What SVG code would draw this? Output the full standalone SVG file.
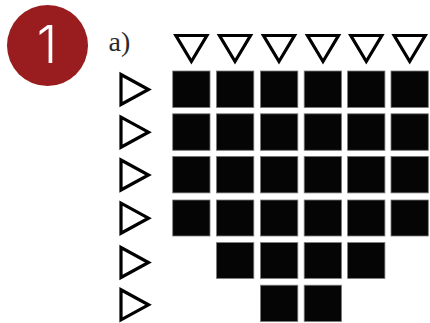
<svg xmlns="http://www.w3.org/2000/svg" width="430" height="323" viewBox="0 0 430 323">
<style>
.sq{fill:#050505;stroke:#7a7a7a;stroke-width:0.8}
.tri{fill:#fff;stroke:#000;stroke-width:3.2;stroke-linejoin:miter}
.lbl{font-family:"Liberation Serif",serif;font-size:28px;fill:#2a2a2a}
.num{font-family:Inter,"Open Sans","Liberation Sans",sans-serif;font-weight:300;font-size:52px;fill:#fff}
</style>
<defs>
<path id="down" class="tri" d="M-15.5,0 L15.5,0 L0,26 Z"/>
<path id="right" class="tri" d="M0,-15 L0,15 L27.5,0 Z"/>
</defs>
<rect width="430" height="323" fill="#fff"/>
<g id="badge">
<circle cx="47.5" cy="45.5" r="40.5" fill="#991c1f"/>
<text class="num" x="47" y="63" text-anchor="middle">1</text>
</g>
<g id="label"><text class="lbl" x="108.5" y="50.7">a)</text></g>
<g id="column-markers">
<use href="#down" x="191.4" y="35.5"/>
<use href="#down" x="235" y="35.5"/>
<use href="#down" x="279" y="35.5"/>
<use href="#down" x="323" y="35.5"/>
<use href="#down" x="366.3" y="35.5"/>
<use href="#down" x="409.7" y="35.5"/>
</g>
<g id="row-markers">
<use href="#right" x="121" y="89.5"/>
<use href="#right" x="121" y="132.2"/>
<use href="#right" x="121" y="175"/>
<use href="#right" x="121" y="218.2"/>
<use href="#right" x="121" y="262.5"/>
<use href="#right" x="121" y="304.8"/>
</g>
<g id="grid">
<rect class="sq" x="172.7" y="71" width="37.3" height="36.5"/>
<rect class="sq" x="216.5" y="71" width="37.3" height="36.5"/>
<rect class="sq" x="260.5" y="71" width="37.3" height="36.5"/>
<rect class="sq" x="304.2" y="71" width="37.3" height="36.5"/>
<rect class="sq" x="347.6" y="71" width="37.3" height="36.5"/>
<rect class="sq" x="391" y="71" width="37.3" height="36.5"/>
<rect class="sq" x="172.7" y="113.8" width="37.3" height="36.5"/>
<rect class="sq" x="216.5" y="113.8" width="37.3" height="36.5"/>
<rect class="sq" x="260.5" y="113.8" width="37.3" height="36.5"/>
<rect class="sq" x="304.2" y="113.8" width="37.3" height="36.5"/>
<rect class="sq" x="347.6" y="113.8" width="37.3" height="36.5"/>
<rect class="sq" x="391" y="113.8" width="37.3" height="36.5"/>
<rect class="sq" x="172.7" y="156.4" width="37.3" height="36.5"/>
<rect class="sq" x="216.5" y="156.4" width="37.3" height="36.5"/>
<rect class="sq" x="260.5" y="156.4" width="37.3" height="36.5"/>
<rect class="sq" x="304.2" y="156.4" width="37.3" height="36.5"/>
<rect class="sq" x="347.6" y="156.4" width="37.3" height="36.5"/>
<rect class="sq" x="391" y="156.4" width="37.3" height="36.5"/>
<rect class="sq" x="172.7" y="200" width="37.3" height="36"/>
<rect class="sq" x="216.5" y="200" width="37.3" height="36"/>
<rect class="sq" x="260.5" y="200" width="37.3" height="36"/>
<rect class="sq" x="304.2" y="200" width="37.3" height="36"/>
<rect class="sq" x="347.6" y="200" width="37.3" height="36"/>
<rect class="sq" x="391" y="200" width="37.3" height="36"/>
<rect class="sq" x="216.5" y="242.6" width="37.3" height="35.8"/>
<rect class="sq" x="260.5" y="242.6" width="37.3" height="35.8"/>
<rect class="sq" x="304.2" y="242.6" width="37.3" height="35.8"/>
<rect class="sq" x="347.6" y="242.6" width="37.3" height="35.8"/>
<rect class="sq" x="260.5" y="285.2" width="37.3" height="36.3"/>
<rect class="sq" x="304.2" y="285.2" width="37.3" height="36.3"/>
</g>
</svg>
